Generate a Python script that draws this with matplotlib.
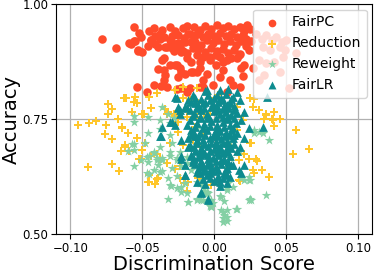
import numpy as np
import matplotlib
matplotlib.use("Agg")
import matplotlib.pyplot as plt

# Discrimination score / accuracy pairs
fairpc = [
    (-0.078, 0.924), (-0.068, 0.904), (-0.056, 0.951), (-0.052, 0.938), (-0.045, 0.941),
    (-0.059, 0.915), (-0.055, 0.920), (-0.053, 0.899), (-0.051, 0.929), (-0.044, 0.922),
    (-0.046, 0.909), (-0.038, 0.936), (-0.038, 0.923), (-0.034, 0.907), (-0.031, 0.922),
    (-0.025, 0.933), (-0.025, 0.915), (-0.018, 0.936), (-0.016, 0.918), (-0.056, 0.919),
    (-0.058, 0.914), (-0.053, 0.900), (-0.050, 0.895), (-0.044, 0.922), (-0.039, 0.907),
    (-0.030, 0.919), (-0.033, 0.907), (-0.029, 0.904), (-0.027, 0.914), (-0.024, 0.907),
    (-0.022, 0.898), (-0.020, 0.918), (-0.017, 0.936), (-0.015, 0.904), (-0.019, 0.882),
    (-0.023, 0.895), (-0.035, 0.882), (-0.031, 0.867), (-0.026, 0.867), (-0.024, 0.860),
    (-0.039, 0.859), (-0.035, 0.856), (-0.034, 0.846), (-0.035, 0.835), (-0.025, 0.842),
    (-0.023, 0.853), (-0.020, 0.849), (-0.016, 0.853), (-0.016, 0.875), (-0.042, 0.824),
    (-0.037, 0.822), (-0.054, 0.819), (-0.047, 0.808), (-0.026, 0.815), (-0.023, 0.817),
    (-0.019, 0.808), (-0.017, 0.817), (-0.036, 0.878), (-0.027, 0.867), (-0.033, 0.819),
    (-0.010, 0.819), (-0.012, 0.853), (-0.008, 0.835),
    (-0.042, 0.948), (-0.036, 0.944), (-0.031, 0.950), (-0.027, 0.942), (-0.022, 0.947),
    (-0.019, 0.952), (-0.041, 0.930), (-0.035, 0.928), (-0.029, 0.931), (-0.021, 0.926),
    (-0.014, 0.928), (-0.041, 0.913), (-0.028, 0.897), (-0.019, 0.893), (-0.012, 0.890),
    (-0.010, 0.874), (0.001, 0.890), (0.012, 0.883), (0.022, 0.925), (0.023, 0.955),
    (-0.014, 0.950), (-0.010, 0.944), (-0.006, 0.953), (-0.002, 0.946), (0.002, 0.955),
    (0.006, 0.948), (0.010, 0.952), (0.014, 0.945), (0.018, 0.950), (0.021, 0.942),
    (-0.012, 0.934), (-0.008, 0.928), (-0.004, 0.936), (0.000, 0.930), (0.004, 0.938),
    (0.008, 0.931), (0.012, 0.936), (0.016, 0.928), (0.020, 0.933),
    (-0.013, 0.918), (-0.009, 0.912), (-0.005, 0.921), (-0.001, 0.915), (0.003, 0.922),
    (0.007, 0.914), (0.011, 0.919), (0.015, 0.912), (0.019, 0.920), (0.022, 0.909),
    (-0.011, 0.902), (-0.006, 0.896), (-0.002, 0.905), (0.002, 0.898), (0.006, 0.903),
    (0.010, 0.894), (0.014, 0.900), (0.018, 0.891),
    (-0.008, 0.884), (-0.003, 0.879), (0.004, 0.885), (0.009, 0.878), (0.016, 0.882),
    (-0.015, 0.853), (-0.010, 0.860), (-0.005, 0.849), (0.001, 0.867), (0.004, 0.842),
    (0.006, 0.856), (0.011, 0.835), (0.013, 0.824), (0.018, 0.820), (0.019, 0.860),
    (0.006, 0.875), (-0.003, 0.885), (0.017, 0.889), (0.020, 0.929), (0.020, 0.947),
    (-0.001, 0.824), (-0.008, 0.820), (0.009, 0.809), (0.021, 0.868), (0.020, 0.843),
    (0.029, 0.936), (0.033, 0.925), (0.036, 0.933), (0.040, 0.922), (0.043, 0.929),
    (0.047, 0.918), (0.050, 0.922), (0.034, 0.907), (0.039, 0.900), (0.046, 0.907),
    (0.049, 0.900), (0.057, 0.893), (0.031, 0.878), (0.036, 0.871), (0.042, 0.875),
    (0.048, 0.886), (0.035, 0.846), (0.046, 0.853), (0.052, 0.817), (0.031, 0.835),
    (0.027, 0.860), (0.026, 0.920), (0.025, 0.945), (0.024, 0.900),
]

reduction = [
    (-0.063, 0.795), (-0.061, 0.795), (-0.074, 0.783), (-0.071, 0.771), (-0.074, 0.761),
    (-0.056, 0.786), (-0.057, 0.766), (-0.095, 0.738), (-0.087, 0.741), (-0.082, 0.746),
    (-0.075, 0.738), (-0.067, 0.749), (-0.064, 0.732), (-0.060, 0.720), (-0.076, 0.717),
    (-0.071, 0.706), (-0.062, 0.693), (-0.065, 0.681), (-0.059, 0.680), (-0.088, 0.645),
    (-0.071, 0.652), (-0.066, 0.638),
    (-0.050, 0.762), (-0.044, 0.773), (-0.034, 0.771), (-0.033, 0.762), (-0.027, 0.756),
    (-0.052, 0.662), (-0.046, 0.613), (-0.041, 0.608), (-0.039, 0.621), (-0.045, 0.628),
    (-0.050, 0.682), (-0.048, 0.697), (-0.040, 0.675), (-0.038, 0.664), (-0.033, 0.655),
    (-0.027, 0.642), (-0.024, 0.621), (-0.019, 0.594), (-0.018, 0.613), (-0.031, 0.697),
    (-0.022, 0.693), (-0.015, 0.704), (-0.010, 0.690), (-0.025, 0.722), (-0.013, 0.732),
    (-0.008, 0.719), (-0.002, 0.606),
    (-0.055, 0.799), (-0.054, 0.784), (-0.045, 0.799), (-0.040, 0.806), (-0.049, 0.762),
    (-0.032, 0.766), (-0.028, 0.762), (-0.064, 0.730), (-0.054, 0.708), (-0.062, 0.690),
    (-0.044, 0.670), (-0.025, 0.744), (-0.019, 0.755), (-0.012, 0.755), (-0.022, 0.795),
    (-0.017, 0.791), (-0.027, 0.813), (-0.022, 0.819), (-0.012, 0.817),
    (-0.051, 0.663), (-0.045, 0.614), (-0.040, 0.619), (-0.024, 0.648), (-0.010, 0.624),
    (-0.021, 0.611),
    (0.057, 0.726), (0.055, 0.674), (0.066, 0.684), (0.042, 0.766), (0.036, 0.758),
    (0.041, 0.748), (0.046, 0.749), (0.042, 0.734), (0.031, 0.769), (0.027, 0.777),
    (0.026, 0.697), (0.021, 0.675), (0.024, 0.662), (0.030, 0.659), (0.033, 0.640),
    (0.027, 0.639), (0.038, 0.623), (0.017, 0.617), (0.017, 0.661), (0.025, 0.698),
    (0.020, 0.756), (0.016, 0.777), (-0.003, 0.761), (0.025, 0.795), (0.028, 0.794),
    (0.036, 0.760), (0.046, 0.750), (0.040, 0.750), (0.035, 0.750), (0.020, 0.748),
    (0.016, 0.726), (0.029, 0.663), (-0.007, 0.762), (-0.003, 0.795), (-0.011, 0.784),
    (0.003, 0.802), (0.012, 0.690), (0.028, 0.632), (0.018, 0.616), (-0.011, 0.621),
    (0.010, 0.643),
]

reweight = [
    (-0.056, 0.756), (-0.056, 0.743), (-0.056, 0.696), (-0.060, 0.681), (-0.056, 0.648),
    (-0.046, 0.755), (-0.038, 0.729), (-0.048, 0.697), (-0.057, 0.695), (-0.046, 0.657),
    (-0.040, 0.661), (-0.038, 0.635), (-0.032, 0.621), (-0.031, 0.606), (-0.032, 0.577),
    (-0.026, 0.599), (-0.023, 0.592), (-0.018, 0.570), (-0.012, 0.574), (-0.005, 0.574),
    (-0.002, 0.559), (-0.020, 0.610),
    (-0.047, 0.632), (-0.045, 0.631), (-0.042, 0.640), (-0.039, 0.650), (-0.036, 0.638),
    (-0.030, 0.605), (-0.026, 0.625), (-0.023, 0.603), (-0.019, 0.589), (-0.018, 0.569),
    (-0.008, 0.574), (-0.005, 0.589), (-0.003, 0.561), (-0.045, 0.669), (-0.040, 0.665),
    (-0.036, 0.661), (-0.031, 0.669), (-0.026, 0.665), (-0.019, 0.654), (-0.016, 0.640),
    (-0.010, 0.611), (-0.007, 0.600), (-0.023, 0.647), (-0.029, 0.643), (-0.051, 0.661),
    (-0.042, 0.676),
    (-0.056, 0.683), (-0.031, 0.715), (-0.029, 0.697), (-0.038, 0.690), (-0.031, 0.679),
    (-0.024, 0.679), (-0.042, 0.679), (-0.036, 0.665), (-0.026, 0.661), (-0.019, 0.668),
    (-0.012, 0.730), (-0.038, 0.748), (-0.031, 0.741), (-0.046, 0.719), (-0.047, 0.668),
    (-0.036, 0.776), (-0.032, 0.762), (-0.028, 0.752),
    (0.036, 0.585), (0.024, 0.574), (0.026, 0.573), (0.016, 0.554), (0.009, 0.553),
    (0.005, 0.553), (0.007, 0.542), (0.009, 0.529), (0.006, 0.534), (-0.002, 0.574),
    (0.007, 0.571), (0.004, 0.582), (-0.004, 0.589), (-0.009, 0.574), (-0.012, 0.576),
    (-0.001, 0.567), (-0.002, 0.560), (-0.007, 0.592), (0.024, 0.618), (0.021, 0.618),
    (0.009, 0.600), (0.010, 0.611), (-0.012, 0.614), (-0.009, 0.611),
    (0.028, 0.719), (0.038, 0.704), (0.010, 0.708), (0.017, 0.679), (0.011, 0.665),
    (0.013, 0.704), (0.031, 0.722), (0.034, 0.719), (0.025, 0.617), (0.024, 0.623),
    (0.025, 0.575), (0.015, 0.555), (0.006, 0.548), (0.009, 0.537), (0.006, 0.525),
    (0.005, 0.581), (-0.003, 0.563), (-0.005, 0.592), (0.009, 0.595), (0.019, 0.621),
    (0.013, 0.603), (0.028, 0.726),
]

fairlr = [
    (-0.027, 0.799), (-0.018, 0.791), (-0.005, 0.813), (0.002, 0.802), (-0.019, 0.773),
    (-0.024, 0.770), (-0.012, 0.777), (-0.008, 0.784), (-0.003, 0.791), (0.002, 0.770),
    (0.004, 0.813), (-0.004, 0.802), (-0.015, 0.802), (0.013, 0.798), (0.037, 0.797),
    (-0.025, 0.777), (-0.020, 0.777), (-0.017, 0.770), (-0.013, 0.784), (-0.006, 0.810),
    (0.005, 0.795), (0.009, 0.781), (0.018, 0.791), (0.014, 0.770), (0.021, 0.766),
    (0.008, 0.805), (0.016, 0.808), (-0.026, 0.795), (0.010, 0.815),
    (-0.036, 0.733), (-0.029, 0.744), (-0.019, 0.737), (-0.016, 0.726), (-0.038, 0.712),
    (-0.023, 0.704), (-0.017, 0.694), (-0.012, 0.704), (-0.010, 0.679), (-0.015, 0.657),
    (-0.004, 0.672), (-0.009, 0.752), (-0.004, 0.752), (0.034, 0.733), (0.018, 0.690),
    (0.021, 0.708), (0.024, 0.730), (0.019, 0.748), (0.009, 0.752), (0.001, 0.723),
    (0.014, 0.715), (0.010, 0.697), (0.004, 0.683),
    (-0.016, 0.786), (-0.011, 0.781), (-0.006, 0.788), (-0.001, 0.782), (0.003, 0.787),
    (0.007, 0.779), (0.011, 0.785),
    (-0.014, 0.764), (-0.009, 0.769), (-0.005, 0.761), (0.000, 0.767), (0.004, 0.760),
    (0.008, 0.766), (0.012, 0.758), (0.016, 0.763),
    (-0.017, 0.748), (-0.012, 0.742), (-0.007, 0.739), (-0.002, 0.745), (0.002, 0.738),
    (0.006, 0.744), (0.011, 0.737), (0.015, 0.742),
    (-0.015, 0.725), (-0.010, 0.720), (-0.005, 0.727), (0.000, 0.718), (0.004, 0.725),
    (0.008, 0.719), (0.012, 0.726), (0.016, 0.720),
    (-0.018, 0.708), (-0.013, 0.712), (-0.008, 0.704), (-0.003, 0.709), (0.001, 0.701),
    (0.005, 0.707), (0.009, 0.703), (0.013, 0.709),
    (-0.014, 0.690), (-0.009, 0.686), (-0.004, 0.692), (0.000, 0.684), (0.004, 0.690),
    (0.008, 0.682), (0.012, 0.688), (0.016, 0.680),
    (-0.016, 0.672), (-0.011, 0.668), (-0.006, 0.675), (-0.001, 0.666), (0.003, 0.672),
    (0.007, 0.664), (0.011, 0.670),
    (-0.013, 0.652), (-0.008, 0.648), (-0.003, 0.655), (0.001, 0.646), (0.005, 0.652),
    (0.009, 0.644), (0.013, 0.650),
    (-0.010, 0.632), (-0.005, 0.628), (-0.001, 0.636), (0.003, 0.626), (0.007, 0.633),
    (0.011, 0.624),
    (-0.012, 0.612), (-0.006, 0.608), (0.000, 0.615), (0.004, 0.604), (0.009, 0.611),
    (-0.009, 0.590), (-0.004, 0.574), (-0.020, 0.650), (-0.020, 0.629), (-0.023, 0.669),
    (-0.016, 0.669), (-0.010, 0.647), (-0.005, 0.650), (-0.008, 0.636), (-0.003, 0.632),
    (0.021, 0.650), (0.017, 0.640), (0.012, 0.650), (0.019, 0.632), (0.007, 0.661),
    (0.009, 0.629), (0.004, 0.614),
    (-0.025, 0.773), (-0.020, 0.777), (-0.031, 0.744), (-0.027, 0.737), (-0.037, 0.713),
    (-0.023, 0.664), (-0.020, 0.628), (-0.015, 0.661), (-0.010, 0.671), (-0.009, 0.592),
    (-0.004, 0.575), (-0.012, 0.635), (-0.018, 0.690), (-0.015, 0.719), (-0.024, 0.762),
    (-0.013, 0.796), (-0.009, 0.793), (0.000, 0.796), (0.006, 0.791), (0.012, 0.793),
    (-0.012, 0.775), (-0.007, 0.773), (-0.002, 0.776), (0.002, 0.778), (0.006, 0.772),
    (0.010, 0.775), (0.014, 0.778),
    (-0.015, 0.756), (-0.010, 0.754), (-0.004, 0.757), (0.001, 0.753), (0.006, 0.755),
    (0.010, 0.750), (0.014, 0.752),
    (-0.013, 0.733), (-0.008, 0.731), (-0.003, 0.735), (0.002, 0.730), (0.007, 0.732),
    (0.013, 0.731),
    (-0.016, 0.716), (-0.011, 0.714), (-0.006, 0.716), (-0.001, 0.712), (0.003, 0.714),
    (0.007, 0.712), (0.011, 0.715),
    (-0.012, 0.697), (-0.007, 0.695), (-0.002, 0.698), (0.002, 0.694), (0.006, 0.697),
    (0.010, 0.692), (0.014, 0.696),
    (-0.013, 0.680), (-0.008, 0.678), (-0.003, 0.681), (0.002, 0.678), (0.006, 0.676),
    (0.010, 0.679),
    (-0.014, 0.662), (-0.009, 0.659), (-0.004, 0.662), (0.001, 0.658), (0.005, 0.661),
    (0.010, 0.657),
    (-0.011, 0.642), (-0.006, 0.640), (-0.002, 0.643), (0.003, 0.639), (0.008, 0.641),
    (-0.008, 0.620), (-0.003, 0.622), (0.002, 0.619), (0.006, 0.621),
]

names = ["FairPC", "Reduction", "Reweight", "FairLR"]
colors = ["#ff4b2b", "#ffc62a", "#84d0a4", "#0d8b8f"]
markers = ["o", "P", "*", "^"]
sizes = [38, 34, 52, 40]

fig = plt.figure(figsize=(3.74, 2.73), dpi=100)
ax = fig.add_axes([0.150, 0.143, 0.845, 0.842])

for pts, name, c, m, s in zip([fairpc, reduction, reweight, fairlr], names, colors, markers, sizes):
    pts = np.array(pts)
    ax.scatter(pts[:, 0], pts[:, 1], c=c, marker=m, s=s, linewidths=0, label=name, zorder=2)

ax.set_xlim(-0.11, 0.11)
ax.set_ylim(0.5, 1.0)
ax.set_xticks([-0.10, -0.05, 0.0, 0.05, 0.10])
ax.set_xticklabels(["\u22120.10", "\u22120.05", "0.00", "0.05", "0.10"])
ax.set_yticks([0.5, 0.75, 1.0])
ax.set_yticklabels(["0.50", "0.75", "1.00"])
ax.tick_params(labelsize=8.5, pad=2)
ax.grid(True, color="#b0b0b0", linewidth=0.9, zorder=0)
ax.set_axisbelow(True)
ax.set_xlabel("Discrimination Score", fontsize=14, labelpad=0)
ax.set_ylabel("Accuracy", fontsize=14, labelpad=1)
ax.legend(loc="upper right", fontsize=10, handletextpad=0.4, borderaxespad=0.4,
          framealpha=0.8, markerscale=0.9)

fig.savefig("out.png", dpi=100)
